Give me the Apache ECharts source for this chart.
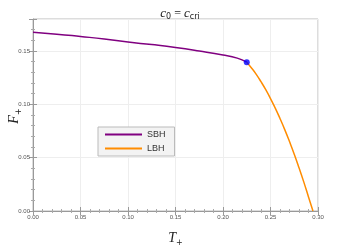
<!DOCTYPE html>
<html><head><meta charset="utf-8">
<script src="https://cdn.jsdelivr.net/npm/echarts@6/dist/echarts.min.js"></script>
<style>html,body{margin:0;padding:0;background:#fff}#c{width:349px;height:245px}</style>
</head><body><div id="c"></div>
<script>
const sbhT = [0, 0.025, 0.05, 0.075, 0.10, 0.125, 0.15, 0.175, 0.20, 0.215, 0.225];
const sbhF = [0.1676, 0.1658, 0.1636, 0.1613, 0.1584, 0.1560, 0.1533, 0.1500, 0.1463, 0.1433, 0.1395];
const lbhT = [0.225, 0.230, 0.235, 0.240, 0.245, 0.250, 0.255, 0.260, 0.265, 0.270, 0.275, 0.280, 0.285, 0.290, 0.2947];
const lbhF = [0.1395, 0.1341, 0.1281, 0.1212, 0.1137, 0.1054, 0.0965, 0.0867, 0.0763, 0.0651, 0.0533, 0.0406, 0.0273, 0.0132, 0.0];
const critPoint = [0.225, 0.1395];
const xTicks = [0, 0.05, 0.10, 0.15, 0.20, 0.25, 0.30];
const yTicks = [0, 0.05, 0.10, 0.15];

const chart = echarts.init(document.getElementById('c'), null, {renderer: 'canvas'});
const zip = (a, b) => a.map((v, i) => [v, b[i]]);
const tickStyle = {show: true, inside: true, length: 4, lineStyle: {color: '#999', width: 1}};
const minorStyle = {show: true, splitNumber: 5, length: 2, lineStyle: {color: '#aaa', width: 1}};
const lblFmt = v => {
  const all = xTicks.concat(yTicks);
  return all.some(t => Math.abs(t - v) < 1e-9) ? v.toFixed(2) : '';
};
const serifRich = {
  i: {fontFamily: 'Liberation Serif', fontStyle: 'italic', fontWeight: 'normal', fontSize: 14, fill: '#222', color: '#222'},
  s: {fontFamily: 'DejaVu Sans', fontWeight: 'normal', fontSize: 8, fill: '#222', color: '#222', padding: [9, 0, 0, 0]}
};
chart.setOption({
  animation: false,
  title: {
    text: '{i|c}{s|0}{e| = }{i|c}{s|cri}',
    left: 175, top: 1, textAlign: 'center',
    textStyle: {fontWeight: 'normal', rich: {
      i: {fontFamily: 'Liberation Serif', fontStyle: 'italic', fontWeight: 'normal', fontSize: 13, color: '#222'},
      s: {fontFamily: 'DejaVu Sans', fontWeight: 'normal', fontSize: 8, color: '#222', padding: [7, 0, 0, 0]},
      e: {fontFamily: 'Liberation Serif', fontWeight: 'normal', fontSize: 12, color: '#222'}
    }}
  },
  graphic: [{
    type: 'text', x: 14, y: 116, rotation: Math.PI / 2,
    style: {text: '{i|F}{s|+}', rich: serifRich, align: 'center', verticalAlign: 'middle'}
  }],
  grid: {left: 33, right: 31, top: 19, bottom: 34, show: true, borderColor: '#bbb', borderWidth: 1,
         containLabel: false, outerBoundsMode: 'none'},
  legend: {
    left: 98, top: 127, orient: 'vertical',
    backgroundColor: '#f3f3f3', borderColor: '#bbb', borderWidth: 1, borderRadius: 0,
    padding: [3, 9, 3, 7], itemGap: 5,
    itemWidth: 37, itemHeight: 2, icon: 'rect',
    textStyle: {fontFamily: 'Liberation Sans', fontSize: 9, color: '#333', padding: [0, 0, 0, 0]},
    data: ['SBH', 'LBH']
  },
  xAxis: [{
    type: 'value', min: 0, max: 0.30, interval: 0.05,
    name: '{i|T}{s|+}', nameLocation: 'middle', nameGap: 19,
    nameTextStyle: {rich: serifRich},
    axisLine: {show: true, lineStyle: {color: '#999'}},
    axisTick: tickStyle, minorTick: minorStyle,
    splitLine: {show: true, lineStyle: {color: '#eee', width: 1}},
    axisLabel: {formatter: lblFmt, fontSize: 6, color: '#555', fontFamily: 'Liberation Sans', margin: 3}
  }, {
    type: 'value', min: 0, max: 0.30, interval: 0.05, position: 'top',
    axisLine: {show: false}, axisTick: tickStyle, minorTick: minorStyle,
    splitLine: {show: false}, axisLabel: {show: false}
  }],
  yAxis: [{
    type: 'value', min: 0, max: 0.18, interval: 0.05,
    axisLine: {show: true, lineStyle: {color: '#999'}},
    axisTick: tickStyle, minorTick: minorStyle,
    splitLine: {show: true, lineStyle: {color: '#eee', width: 1}},
    axisLabel: {formatter: lblFmt, fontSize: 6, color: '#555', fontFamily: 'Liberation Sans', margin: 3, showMaxLabel: false}
  }, {
    type: 'value', min: 0, max: 0.18, interval: 0.05, position: 'right',
    axisLine: {show: false}, axisTick: tickStyle, minorTick: minorStyle,
    splitLine: {show: false}, axisLabel: {show: false}
  }],
  series: [{
    name: 'SBH', type: 'line', data: zip(sbhT, sbhF), smooth: true, showSymbol: false,
    lineStyle: {color: '#800080', width: 1.5}, itemStyle: {color: '#800080'}
  }, {
    name: 'LBH', type: 'line', data: zip(lbhT, lbhF), smooth: true, showSymbol: false,
    lineStyle: {color: '#ff8c00', width: 1.5}, itemStyle: {color: '#ff8c00'}
  }, {
    name: 'crit', type: 'scatter', data: [critPoint], symbolSize: 6, z: 5,
    itemStyle: {color: '#0000ff'}
  }]
});
</script></body></html>
